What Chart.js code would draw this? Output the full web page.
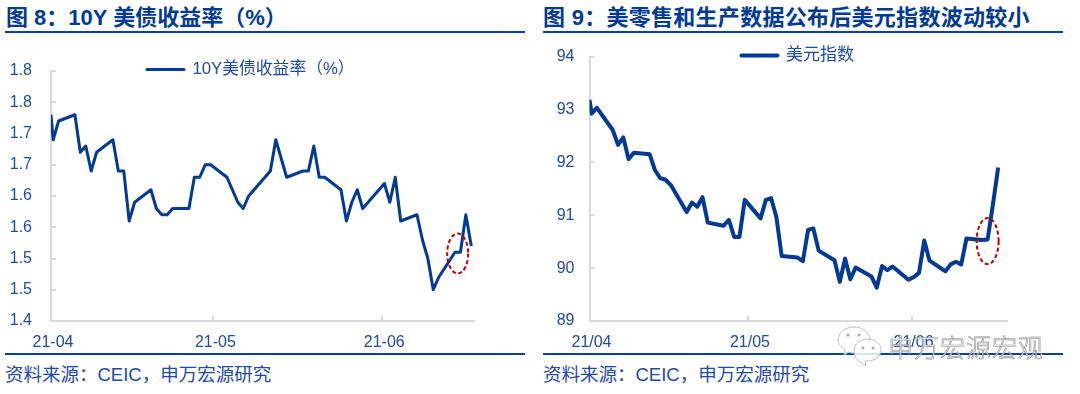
<!DOCTYPE html>
<html><head><meta charset="utf-8">
<script src="https://cdn.jsdelivr.net/npm/chart.js@4"></script>
<style>
html,body{margin:0;padding:0;background:#fff;width:1080px;height:394px;overflow:hidden}
.t{position:absolute;white-space:nowrap;font-family:"Liberation Sans","Noto Sans CJK SC",sans-serif}
.title{font-size:22px;font-weight:700;color:#003A96;top:5px;line-height:26px}
.src{font-size:18.5px;color:#1F4AA8;top:362px;line-height:26px}
.rule{position:absolute;height:2px;background:#0B3FA5}
canvas{position:absolute;top:0}
</style></head><body>
<div class="t title" style="left:6px">图 8：10Y 美债收益率（%）</div>
<div class="t title" style="left:543px;letter-spacing:.28px">图 9：美零售和生产数据公布后美元指数波动较小</div>
<div class="rule" style="left:5px;width:520px;top:31px"></div>
<div class="rule" style="left:543px;width:520px;top:31px"></div>
<div class="rule" style="left:5px;width:520px;top:353px"></div>
<div class="rule" style="left:543px;width:520px;top:353px"></div>
<div class="t src" style="left:5px">资料来源：CEIC，申万宏源研究</div>
<div class="t src" style="left:543px">资料来源：CEIC，申万宏源研究</div>
<div style="position:absolute;left:0;top:0;width:535px;height:394px"><canvas id="c1"></canvas></div>
<div style="position:absolute;left:535px;top:0;width:545px;height:394px"><canvas id="c2"></canvas></div>
<svg style="position:absolute;left:836px;top:325px" width="50" height="48" viewBox="0 0 50 48">
<g fill="rgba(255,255,255,.85)" stroke="#bbb" stroke-width="1">
<path d="M18 2c9 0 16 6 16 13s-7 13-16 13c-2 0-4 0-5-1l-5 3 1-5C5 22 2 19 2 15 2 8 9 2 18 2z"/>
<path d="M32 14c7 0 13 5 13 11s-6 11-13 11c-1 0-2 0-3 0l1 5-6-4c-4-2-6-7-6-12 0-6 7-11 14-11z"/>
</g>
<g fill="#aaa"><circle cx="12" cy="10" r="1.6"/><circle cx="23" cy="10" r="1.6"/><circle cx="27" cy="23" r="1.4"/><circle cx="37" cy="23" r="1.4"/></g>
</svg>
<div class="t" style="left:888px;top:329px;font-size:25px;line-height:34px;letter-spacing:1px;color:rgba(255,255,255,.82);-webkit-text-stroke:.6px #8a8a8a;font-family:'Noto Sans CJK SC',sans-serif;font-weight:300">申万宏源宏观</div>
<script>
// Left panel: 10Y US Treasury yield (%), x = days since 2021-04-01
const leftDays = [-0.4,0,1,4,5,6,7,8,11,12,13,14,15,18,19,20,21,22,25,26,27,28,29,32,33,34,35,36,39,40,41,42,43,46,47,48,49,50,53,54,55,56,57,61,62,63,64,67,68,69,70,71,74,75,76,77];
const leftYield = [1.73,1.69,1.72,1.73,1.67,1.68,1.64,1.67,1.69,1.64,1.64,1.56,1.59,1.61,1.58,1.57,1.57,1.58,1.58,1.63,1.63,1.65,1.65,1.63,1.61,1.59,1.58,1.60,1.63,1.64,1.69,1.66,1.63,1.64,1.64,1.68,1.63,1.63,1.61,1.56,1.59,1.61,1.58,1.62,1.59,1.63,1.56,1.57,1.53,1.50,1.45,1.47,1.51,1.51,1.57,1.52];
const leftYLabels = ['1.4','1.5','1.5','1.6','1.6','1.7','1.7','1.8','1.8'];
const leftXTicks = [-0.4,29.5,60.6];
const leftXLabels = ['21-04','21-05','21-06'];
const leftName = '10Y美债收益率（%）';
const leftMark = [74.5,1.508];
// Right panel: US dollar index
const rightDays = [-0.4,0,1,4,5,6,7,8,11,12,13,14,15,18,19,20,21,22,25,26,27,28,29,32,33,34,35,36,39,40,41,42,43,46,47,48,49,50,53,54,55,56,57,60,61,62,63,64,67,68,69,70,71,74,75,76,77];
const rightIndex = [93.18,92.92,93.03,92.61,92.33,92.47,92.06,92.18,92.15,91.85,91.70,91.67,91.57,91.06,91.24,91.16,91.34,90.86,90.80,90.91,90.59,90.59,91.29,90.94,91.29,91.32,90.96,90.23,90.20,90.13,90.72,90.75,90.33,90.15,89.74,90.18,89.79,90.01,89.84,89.63,90.04,89.96,90.03,89.78,89.83,89.91,90.52,90.14,89.94,90.07,90.12,90.07,90.56,90.53,90.54,91.20,91.90];
const rightYLabels = ['89','90','91','92','93','94'];
const rightXTicks = [-0.4,29.6,60.6];
const rightXLabels = ['21/04','21/05','21/06'];
const rightName = '美元指数';
const rightMark = [75,90.51];

const FONT = '"Liberation Sans","Noto Sans CJK SC",sans-serif';
const TXT = '#1F4AA8', LINE = '#003A96', AXIS = '#D9D9D9';

function panel(id, w, cfg){
  const cv = document.getElementById(id);
  const markPlugin = {
    id:'mark',
    afterDatasetsDraw(ch){
      const c = ch.ctx, xs = ch.scales.x, ys = ch.scales.y;
      c.save(); c.strokeStyle = '#C00000'; c.lineWidth = 2; c.setLineDash([4,2.6]);
      c.beginPath();
      c.ellipse(xs.getPixelForValue(cfg.mark[0]), ys.getPixelForValue(cfg.mark[1]), cfg.rx, cfg.ry, 0, 0, Math.PI*2);
      c.stroke(); c.restore();
    }
  };
  const legendPlugin = {
    id:'legendPos',
    beforeDraw(ch){
      const l = ch.legend;
      const lw = l.right - l.left;
      l.left = cfg.legendX; l.right = cfg.legendX + lw;
      const lh = l.bottom - l.top;
      l.top = cfg.legendY; l.bottom = cfg.legendY + lh;
    }
  };
  new Chart(cv, {
    type:'line',
    data:{datasets:[{
      label:cfg.name,
      data:cfg.xs.map((x,i)=>({x:x,y:cfg.ys[i]})),
      borderColor:LINE, backgroundColor:LINE, borderWidth:cfg.lw,
      pointRadius:0, tension:0, borderJoinStyle:'round', borderCapStyle:'butt'
    }]},
    options:{
      responsive:false, animation:false, devicePixelRatio:1,
      layout:{padding:{left:0,top:cfg.top,right:w-cfg.right,bottom:0}},
      plugins:{
        tooltip:{enabled:false},
        legend:{
          position:'chartArea', align:'start', fullSize:false,
          labels:{boxWidth:cfg.legendW,boxHeight:0,padding:4,color:TXT,font:{family:FONT,size:cfg.legendSize}}
        }
      },
      scales:{
        x:{
          type:'linear', min:-0.4, max:cfg.xMax,
          afterBuildTicks(s){ s.ticks = cfg.xTicks.map(v=>({value:v})); },
          afterFit(s){ s.height = 394-321; },
          border:{color:AXIS,width:2},
          grid:{drawOnChartArea:false,color:AXIS,lineWidth:2,tickLength:-5},
          ticks:{autoSkip:false,maxRotation:0,color:TXT,font:{family:FONT,size:16},padding:17,labelOffset:2,
            callback:(v,i)=>cfg.xLabels[i]}
        },
        y:{
          min:cfg.yMin,max:cfg.yMax,
          afterBuildTicks(s){ s.ticks = cfg.yLabels.map((_,i)=>({value:cfg.yMin+i*cfg.yStep})); },
          afterFit(s){ s.width = cfg.axisX; },
          border:{color:AXIS,width:2},
          grid:{drawOnChartArea:false,color:AXIS,lineWidth:2,tickLength:-5},
          ticks:{autoSkip:false,color:TXT,font:{family:FONT,size:16},padding:cfg.yPad,
            callback:(v,i)=>cfg.yLabels[i]}
        }
      }
    },
    plugins:[markPlugin,legendPlugin]
  });
}
const c1 = document.getElementById('c1'); c1.width=535; c1.height=394;
const c2 = document.getElementById('c2'); c2.width=545; c2.height=394;
panel('c1',535,{name:leftName,xs:leftDays,ys:leftYield,xTicks:leftXTicks,xLabels:leftXLabels,yLabels:leftYLabels,
  yMin:1.4,yMax:1.8,yStep:0.05,xMax:77.5,top:71,right:474,axisX:51,yPad:24,lw:3,
  mark:leftMark,rx:10.5,ry:20,legendX:143,legendY:57,legendW:37,legendSize:16.8});
panel('c2',545,{name:rightName,xs:rightDays,ys:rightIndex,xTicks:rightXTicks,xLabels:rightXLabels,yLabels:rightYLabels,
  yMin:89,yMax:94,yStep:1,xMax:78.67,top:56.5,right:472,axisX:54.5,yPad:20,lw:4,
  mark:rightMark,rx:11,ry:23,legendX:202.5,legendY:43,legendW:36,legendSize:17});
</script>
</body></html>
